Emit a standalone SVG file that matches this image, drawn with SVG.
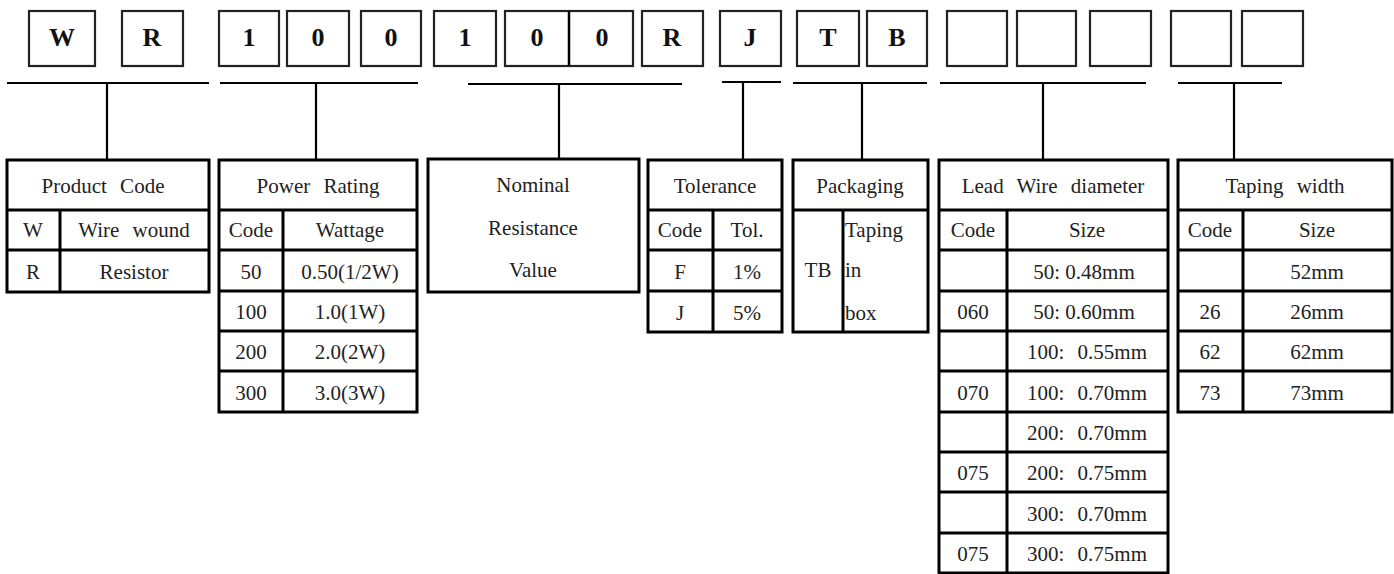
<svg xmlns="http://www.w3.org/2000/svg" width="1394" height="574" viewBox="0 0 1394 574">
<style>
.bx{fill:#fff;stroke:#222;stroke-width:2.2}
.ch{font-family:"Liberation Serif","Times New Roman",serif;font-weight:bold;font-size:26px;fill:#111;text-anchor:middle}
.tb{fill:none;stroke:#000;stroke-width:3}
.ln{stroke:#000;stroke-width:2.5}
.cn{stroke:#000;stroke-width:2.2;fill:none}
.t{font-family:"Liberation Serif","Times New Roman",serif;font-size:21px;fill:#222;text-anchor:middle}
.tl{font-family:"Liberation Serif","Times New Roman",serif;font-size:21px;fill:#222}
.ws{word-spacing:8px}
</style>
<rect width="1394" height="574" fill="#fff"/>
<g id="code-boxes">
<rect class="bx" x="29" y="11" width="66" height="55"/><text class="ch" x="62" y="46">W</text>
<rect class="bx" x="122" y="11" width="61" height="55"/><text class="ch" x="152" y="46">R</text>
<rect class="bx" x="219" y="11" width="60" height="55"/><text class="ch" x="249" y="46">1</text>
<rect class="bx" x="287" y="11" width="62" height="55"/><text class="ch" x="318" y="46">0</text>
<rect class="bx" x="361" y="11" width="60" height="55"/><text class="ch" x="391" y="46">0</text>
<rect class="bx" x="434" y="11" width="62" height="55"/><text class="ch" x="465" y="46">1</text>
<rect class="bx" x="505" y="11" width="128" height="55"/><line class="ln" x1="569" y1="11" x2="569" y2="66"/><text class="ch" x="537" y="46">0</text><text class="ch" x="602" y="46">0</text>
<rect class="bx" x="642" y="11" width="61" height="55"/><text class="ch" x="672" y="46">R</text>
<rect class="bx" x="720" y="11" width="61" height="55"/><text class="ch" x="750" y="46">J</text>
<rect class="bx" x="797" y="11" width="62" height="55"/><text class="ch" x="828" y="46">T</text>
<rect class="bx" x="867" y="11" width="60" height="55"/><text class="ch" x="897" y="46">B</text>
<rect class="bx" x="947" y="11" width="60" height="55"/>
<rect class="bx" x="1017" y="11" width="59" height="55"/>
<rect class="bx" x="1090" y="11" width="61" height="55"/>
<rect class="bx" x="1171" y="11" width="60" height="55"/>
<rect class="bx" x="1242" y="11" width="61" height="55"/>
</g>
<g id="connectors">
<path class="cn" d="M7 83H209M107 83V160"/>
<path class="cn" d="M220 83H418M316 83V160"/>
<path class="cn" d="M468 84H682M559 84V160"/>
<path class="cn" d="M722 82H781M743 82V160"/>
<path class="cn" d="M793 83H927M862 83V160"/>
<path class="cn" d="M940 83H1146M1043 83V160"/>
<path class="cn" d="M1178 83H1282M1234 83V160"/>
</g>
<g id="product-code">
<rect class="tb" x="7" y="160" width="202" height="132"/>
<path class="tb" d="M7 210H209M7 250H209M60 210V292"/>
<text class="t ws" x="103" y="193">Product Code</text>
<text class="t" x="33" y="237">W</text><text class="t ws" x="134" y="237">Wire wound</text>
<text class="t" x="33" y="279">R</text><text class="t" x="134" y="279">Resistor</text>
</g>
<g id="power-rating">
<rect class="tb" x="219" y="160" width="198" height="252"/>
<path class="tb" d="M219 210H417M219 250H417M219 291H417M219 331H417M219 371H417M283 210V412"/>
<text class="t ws" x="318" y="193">Power Rating</text>
<text class="t" x="251" y="237">Code</text><text class="t" x="350" y="237">Wattage</text>
<text class="t" x="251" y="279">50</text><text class="t" x="350" y="279">0.50(1/2W)</text>
<text class="t" x="251" y="319">100</text><text class="t" x="350" y="319">1.0(1W)</text>
<text class="t" x="251" y="359">200</text><text class="t" x="350" y="359">2.0(2W)</text>
<text class="t" x="251" y="400">300</text><text class="t" x="350" y="400">3.0(3W)</text>
</g>
<g id="nominal-resistance">
<rect class="tb" x="428" y="159" width="211" height="133"/>
<text class="t" x="533" y="192">Nominal</text>
<text class="t" x="533" y="235">Resistance</text>
<text class="t" x="533" y="277">Value</text>
</g>
<g id="tolerance">
<rect class="tb" x="648" y="160" width="134" height="172"/>
<path class="tb" d="M648 210H782M648 250H782M648 291H782M713 210V332"/>
<text class="t" x="715" y="193">Tolerance</text>
<text class="t" x="680" y="237">Code</text><text class="t" x="747" y="237">Tol.</text>
<text class="t" x="680" y="279">F</text><text class="t" x="747" y="279">1%</text>
<text class="t" x="680" y="320">J</text><text class="t" x="747" y="320">5%</text>
</g>
<g id="packaging">
<rect class="tb" x="793" y="160" width="135" height="172"/>
<path class="tb" d="M793 210H928M843 210V332"/>
<text class="t" x="860" y="193">Packaging</text>
<text class="t" x="818" y="277">TB</text>
<text class="tl" x="845" y="237">Taping</text>
<text class="tl" x="845" y="277">in</text>
<text class="tl" x="845" y="320">box</text>
</g>
<g id="lead-wire-diameter">
<rect class="tb" x="939" y="160" width="229" height="413"/>
<path class="tb" d="M939 210H1168M939 250H1168M939 291H1168M939 331H1168M939 371H1168M939 412H1168M939 452H1168M939 492H1168M939 533H1168M1007 210V573"/>
<text class="t ws" x="1053" y="193">Lead Wire diameter</text>
<text class="t" x="973" y="237">Code</text><text class="t" x="1087" y="237">Size</text>
<text class="t" x="1084" y="279">50: 0.48mm</text>
<text class="t" x="973" y="319">060</text><text class="t" x="1084" y="319">50: 0.60mm</text>
<text class="t ws" x="1087" y="359">100: 0.55mm</text>
<text class="t" x="973" y="400">070</text><text class="t ws" x="1087" y="400">100: 0.70mm</text>
<text class="t ws" x="1087" y="440">200: 0.70mm</text>
<text class="t" x="973" y="480">075</text><text class="t ws" x="1087" y="480">200: 0.75mm</text>
<text class="t ws" x="1087" y="521">300: 0.70mm</text>
<text class="t" x="973" y="561">075</text><text class="t ws" x="1087" y="561">300: 0.75mm</text>
</g>
<g id="taping-width">
<rect class="tb" x="1178" y="160" width="214" height="252"/>
<path class="tb" d="M1178 210H1392M1178 250H1392M1178 291H1392M1178 331H1392M1178 371H1392M1243 210V412"/>
<text class="t ws" x="1285" y="193">Taping width</text>
<text class="t" x="1210" y="237">Code</text><text class="t" x="1317" y="237">Size</text>
<text class="t" x="1317" y="279">52mm</text>
<text class="t" x="1210" y="319">26</text><text class="t" x="1317" y="319">26mm</text>
<text class="t" x="1210" y="359">62</text><text class="t" x="1317" y="359">62mm</text>
<text class="t" x="1210" y="400">73</text><text class="t" x="1317" y="400">73mm</text>
</g>
</svg>
